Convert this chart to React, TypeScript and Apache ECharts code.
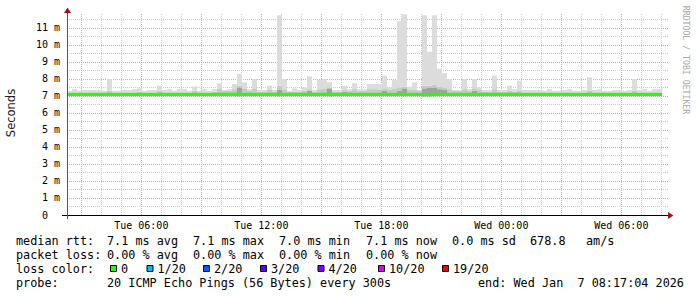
import React, { useEffect, useRef } from 'react';
import * as echarts from 'echarts';

// time axis in minutes since Tue 00:00; graph spans 30 h ending Wed 08:17:04
const START_MIN = 137 + 4 / 60;
const END_MIN = START_MIN + 1800;
const BIN_MIN = 15;
const Y_MAX = 11.88;

// max ping per 15-minute bin (ms)
const smokeHigh = [
  7.3, 7.4, 7.3, 7.35, 7.35, 7.35, 7.35, 7.3, 8.0, 7.3,
  7.3, 7.35, 7.35, 7.4, 7.45, 7.3, 7.35, 7.35, 7.6, 7.35,
  7.4, 7.3, 7.4, 7.4, 7.3, 7.55, 7.3, 7.4, 7.3, 7.4,
  7.75, 7.35, 7.4, 7.7, 8.3, 7.8, 7.4, 8.0, 7.35, 7.35,
  7.6, 7.35, 11.75, 8.0, 7.3, 7.45, 7.35, 7.5, 8.15, 7.35,
  7.95, 8.0, 7.8, 7.35, 7.35, 7.6, 7.4, 7.75, 7.4, 7.4,
  7.7, 7.7, 7.7, 8.2, 7.5, 7.95, 11.4, 11.8, 7.55, 7.8,
  7.35, 11.75, 9.6, 11.75, 8.6, 8.35, 8.0, 7.35, 7.35, 8.0,
  7.4, 8.0, 7.5, 7.35, 7.35, 8.2, 7.35, 7.35, 7.6, 7.4,
  7.9, 7.35, 7.35, 7.35, 7.35, 7.3, 7.4, 7.3, 7.3, 7.35,
  7.4, 7.3, 7.3, 7.35, 8.1, 7.35, 7.4, 7.3, 7.3, 7.35,
  7.35, 7.3, 7.35, 8.0, 7.35, 7.4, 7.3, 7.4, 7.4,
];
// upper edge of the middle smoke layer
const smokeMid = [
  7.2, 7.2, 7.2, 7.2, 7.2, 7.2, 7.2, 7.2, 7.3, 7.2,
  7.2, 7.2, 7.2, 7.2, 7.25, 7.2, 7.2, 7.2, 7.3, 7.2,
  7.2, 7.2, 7.2, 7.2, 7.2, 7.3, 7.2, 7.2, 7.2, 7.25,
  7.45, 7.3, 7.3, 7.4, 7.6, 7.45, 7.3, 7.45, 7.25, 7.25,
  7.35, 7.25, 7.6, 7.4, 7.25, 7.25, 7.25, 7.3, 7.4, 7.25,
  7.4, 7.45, 7.5, 7.25, 7.25, 7.35, 7.3, 7.4, 7.3, 7.3,
  7.4, 7.4, 7.35, 7.45, 7.35, 7.45, 7.5, 7.55, 7.35, 7.35,
  7.3, 7.6, 7.6, 7.65, 7.55, 7.5, 7.4, 7.3, 7.3, 7.4,
  7.3, 7.45, 7.35, 7.25, 7.25, 7.4, 7.25, 7.25, 7.3, 7.25,
  7.3, 7.2, 7.2, 7.2, 7.2, 7.2, 7.2, 7.2, 7.2, 7.2,
  7.2, 7.2, 7.2, 7.2, 7.3, 7.2, 7.2, 7.2, 7.2, 7.2,
  7.2, 7.2, 7.2, 7.3, 7.2, 7.2, 7.2, 7.2, 7.2,
];
// upper edge of the inner (darkest) smoke layer
const smokeDark = [
  7.12, 7.12, 7.12, 7.12, 7.12, 7.12, 7.12, 7.12, 7.12, 7.12,
  7.12, 7.12, 7.12, 7.12, 7.12, 7.12, 7.12, 7.12, 7.12, 7.12,
  7.12, 7.12, 7.12, 7.12, 7.12, 7.12, 7.12, 7.12, 7.12, 7.12,
  7.12, 7.12, 7.12, 7.12, 7.5, 7.2, 7.12, 7.2, 7.12, 7.12,
  7.12, 7.12, 7.35, 7.2, 7.12, 7.12, 7.12, 7.12, 7.3, 7.12,
  7.2, 7.2, 7.45, 7.12, 7.12, 7.25, 7.12, 7.2, 7.12, 7.12,
  7.2, 7.2, 7.12, 7.3, 7.12, 7.2, 7.3, 7.45, 7.12, 7.12,
  7.12, 7.45, 7.5, 7.5, 7.4, 7.35, 7.2, 7.12, 7.12, 7.2,
  7.12, 7.3, 7.12, 7.12, 7.12, 7.12, 7.12, 7.12, 7.12, 7.12,
  7.12, 7.12, 7.12, 7.12, 7.12, 7.12, 7.12, 7.12, 7.12, 7.12,
  7.12, 7.12, 7.12, 7.12, 7.12, 7.12, 7.12, 7.12, 7.12, 7.12,
  7.12, 7.12, 7.12, 7.12, 7.12, 7.12, 7.12, 7.12, 7.12,
];
// min ping per bin
const smokeLow = [
  7.0, 7.0, 7.0, 7.0, 7.0, 7.0, 7.0, 7.0, 7.0, 7.0,
  7.0, 7.0, 7.0, 7.0, 7.0, 7.0, 7.0, 7.0, 7.0, 7.0,
  7.0, 7.0, 7.0, 7.0, 7.0, 7.0, 7.0, 7.0, 7.0, 7.0,
  7.0, 7.0, 7.0, 7.0, 6.98, 7.0, 7.0, 7.0, 7.0, 7.0,
  7.0, 7.0, 6.98, 7.0, 7.0, 7.0, 7.0, 7.0, 7.0, 7.0,
  7.0, 7.0, 6.98, 7.0, 7.0, 7.0, 7.0, 7.0, 7.0, 7.0,
  7.0, 7.0, 7.0, 7.0, 7.0, 7.0, 7.0, 6.98, 7.0, 7.0,
  7.0, 6.97, 6.97, 6.98, 7.0, 7.0, 7.0, 7.0, 7.0, 7.0,
  7.0, 7.0, 7.0, 7.0, 7.0, 7.0, 7.0, 7.0, 7.0, 7.0,
  7.0, 7.0, 7.0, 7.0, 7.0, 7.0, 7.0, 7.0, 7.0, 7.0,
  7.0, 7.0, 7.0, 7.0, 7.0, 7.0, 7.0, 7.0, 7.0, 7.0,
  7.0, 7.0, 7.0, 7.0, 7.0, 7.0, 7.0, 7.0, 7.0,
];
// median rtt per bin
const medianRtt = [
  7.1, 7.1, 7.1, 7.1, 7.1, 7.1, 7.1, 7.1, 7.1, 7.1,
  7.1, 7.1, 7.1, 7.1, 7.1, 7.1, 7.1, 7.1, 7.1, 7.1,
  7.1, 7.1, 7.1, 7.1, 7.1, 7.1, 7.1, 7.1, 7.1, 7.1,
  7.1, 7.1, 7.1, 7.1, 7.11, 7.1, 7.1, 7.1, 7.1, 7.1,
  7.1, 7.1, 7.1, 7.1, 7.1, 7.1, 7.1, 7.1, 7.1, 7.1,
  7.1, 7.1, 7.11, 7.1, 7.1, 7.1, 7.1, 7.1, 7.1, 7.1,
  7.1, 7.1, 7.1, 7.1, 7.1, 7.1, 7.1, 7.1, 7.1, 7.1,
  7.1, 7.09, 7.09, 7.1, 7.1, 7.1, 7.1, 7.1, 7.1, 7.1,
  7.1, 7.1, 7.1, 7.1, 7.1, 7.1, 7.1, 7.1, 7.1, 7.1,
  7.1, 7.1, 7.1, 7.1, 7.1, 7.1, 7.1, 7.1, 7.1, 7.1,
  7.1, 7.1, 7.1, 7.1, 7.1, 7.1, 7.1, 7.1, 7.1, 7.1,
  7.1, 7.1, 7.1, 7.1, 7.1, 7.1, 7.1, 7.1, 7.1,
];

const xTickValues = [360, 720, 1080, 1440, 1800];
const xTickLabels = ['Tue 06:00', 'Tue 12:00', 'Tue 18:00', 'Wed 00:00', 'Wed 06:00'];
const yTickValues = [0, 1, 2, 3, 4, 5, 6, 7, 8, 9, 10, 11];
const yTickLabels = ['0', '1 m', '2 m', '3 m', '4 m', '5 m', '6 m', '7 m', '8 m', '9 m', '10 m', '11 m'];

const rttStats = ['7.1 ms avg', '7.1 ms max', '7.0 ms min', '7.1 ms now', '0.0 ms sd', '678.8', 'am/s'];
const lossStats = ['0.00 % avg', '0.00 % max', '0.00 % min', '0.00 % now'];
const lossLevels = ['0', '1/20', '2/20', '3/20', '4/20', '10/20', '19/20'];
const lossColors = ['#26ff00', '#00b8ff', '#0059ff', '#5e00ff', '#7e00ff', '#dd00ff', '#ff0000'];
const probeText = '20 ICMP Echo Pings (56 Bytes) every 300s';
const endText = 'end: Wed Jan  7 08:17:04 2026';

const MONO = 'DejaVu Sans Mono';
const MGRID = '#e2a4a4';
const GRID = '#cccccc';

export default function App() {
  const ref = useRef<HTMLDivElement>(null);
  useEffect(() => {
    if (!ref.current) return;
    const chart = echarts.init(ref.current, null, { renderer: 'svg' });

    const n = smokeHigh.length;
    const xc = (i: number) => START_MIN + BIN_MIN * (i + 0.5);
    const smokeRows = smokeHigh.map((h, i) => [xc(i), smokeLow[i], smokeDark[i], smokeMid[i], h]);
    const med = medianRtt.map((v, i) => [START_MIN + BIN_MIN * i, v]);
    med.push([START_MIN + BIN_MIN * n, medianRtt[n - 1]]);
    const yLabelRows = yTickValues.map((v, i) => [START_MIN, v, i]);

    // grid lines: [x, y, major?, vertical?]
    const gridRows: number[][] = [];
    for (let v = 0.5; v < Y_MAX; v += 0.5) {
      const major = Math.abs(v - Math.round(v)) < 1e-6 ? 1 : 0;
      gridRows.push([START_MIN, v, major, 0]);
    }
    for (let m = 60 * Math.ceil(START_MIN / 60); m < END_MIN; m += 60) {
      gridRows.push([m, 0, m % 180 === 0 ? 1 : 0, 1]);
    }
    gridRows.sort((a, b) => a[2] - b[2]);

    const texts: any[] = [];
    const addText = (x: number, y: number, t: string) =>
      texts.push({
        type: 'text', x, y,
        style: { text: t, font: `11.8px "${MONO}"`, fill: '#000', textVerticalAlign: 'middle' },
      });
    const col = [107, 193, 279, 366, 452, 530, 586];
    addText(16, 241, 'median rtt:');
    rttStats.forEach((t, i) => addText(col[i], 241, t));
    addText(16, 255, 'packet loss:');
    lossStats.forEach((t, i) => addText(col[i], 255, t));
    addText(16, 269, 'loss color:');
    const boxX = [110, 146.5, 203, 260, 317.5, 378, 442];
    lossLevels.forEach((t, i) => {
      texts.push({
        type: 'rect',
        shape: { x: boxX[i] + 0.5, y: 265.5, width: 6, height: 6 },
        style: { fill: lossColors[i], stroke: '#000', lineWidth: 1 },
      });
      addText(boxX[i] + 11, 269, t);
    });
    addText(16, 283, 'probe:');
    addText(107, 283, probeText);
    addText(478, 283, endText);

    chart.setOption({
      animation: false,
      backgroundColor: '#ffffff',
      grid: { left: 67, top: 13, width: 600, height: 202 },
      xAxis: {
        type: 'value',
        min: START_MIN,
        max: END_MIN,
        axisLine: { show: false },
        axisTick: { show: false },
        splitLine: { show: false },
        axisLabel: {
          customValues: xTickValues,
          formatter: (v: number) => {
            const k = xTickValues.findIndex((t) => Math.abs(t - v) < 0.01);
            return k >= 0 ? xTickLabels[k] : '';
          },
          fontFamily: MONO,
          fontSize: 10,
          color: '#000',
          margin: 5,
        },
      },
      yAxis: {
        type: 'value',
        min: 0,
        max: Y_MAX,
        axisLine: { show: false },
        axisTick: { show: false },
        splitLine: { show: false },
        axisLabel: { show: false },
      },
      series: [
        {
          type: 'custom',
          z: 1,
          silent: true,
          data: gridRows,
          encode: { x: 0, y: 1 },
          renderItem: (params: any, api: any) => {
            const major = api.value(2) === 1;
            const vertical = api.value(3) === 1;
            let a: number[], b: number[];
            if (vertical) {
              const x = api.value(0);
              a = api.coord([x, 0]);
              b = api.coord([x, Y_MAX]);
              a[0] = b[0] = Math.round(a[0]) + 0.5;
            } else {
              const y = api.value(1);
              a = api.coord([START_MIN, y]);
              b = api.coord([END_MIN, y]);
              b[0] += 2;
              a[1] = b[1] = Math.round(a[1]) + 0.5;
            }
            return {
              type: 'line',
              shape: { x1: a[0], y1: a[1], x2: b[0], y2: b[1] },
              style: { stroke: major ? MGRID : GRID, lineWidth: 1, lineDash: [1, 1] },
            };
          },
        },
        {
          type: 'custom',
          z: 5,
          silent: true,
          clip: false,
          data: yLabelRows,
          encode: { x: 0, y: 1 },
          renderItem: (params: any, api: any) => {
            const p = api.coord([api.value(0), api.value(1)]);
            const label = yTickLabels[api.value(2)];
            // rrdtool pads the unit column, so "0" lines up with the other numbers
            const w = Math.max(label.length, 3) * 6.02;
            return {
              type: 'text',
              x: p[0] - 7 - w,
              y: p[1],
              style: {
                text: label,
                font: `10px "${MONO}"`,
                fill: '#000',
                textAlign: 'left',
                textVerticalAlign: 'middle',
              },
            };
          },
        },
        {
          type: 'custom',
          z: 2,
          silent: true,
          data: smokeRows,
          encode: { x: 0, y: [1, 4] },
          renderItem: (params: any, api: any) => {
            const x = api.value(0);
            const half = BIN_MIN / 2;
            const band = (lo: number, hi: number, fill: string) => {
              const p0 = api.coord([x - half, lo]);
              const p1 = api.coord([x + half, hi]);
              const x0 = Math.round(p0[0]);
              const x1 = Math.round(p1[0]);
              return {
                type: 'rect',
                shape: { x: x0, y: p1[1], width: x1 - x0, height: p0[1] - p1[1] },
                style: { fill },
              };
            };
            return {
              type: 'group',
              children: [
                band(api.value(1), api.value(2), '#a2a2a2'),
                band(api.value(2), api.value(3), '#c8c8c8'),
                band(api.value(3), api.value(4), '#dcdcdc'),
              ],
            };
          },
        },
        {
          type: 'line',
          data: med,
          z: 3,
          silent: true,
          showSymbol: false,
          lineStyle: { color: '#26ff00', width: 3 },
        },
      ],
      graphic: [
        { type: 'line', shape: { x1: 62, y1: 215.5, x2: 669, y2: 215.5 }, style: { stroke: '#000', lineWidth: 1 }, z: 10 },
        { type: 'line', shape: { x1: 67.5, y1: 219, x2: 67.5, y2: 12 }, style: { stroke: '#555', lineWidth: 1 }, z: 10 },
        { type: 'polygon', shape: { points: [[64, 13], [71, 13], [67.5, 7.5]] }, style: { fill: '#a01414' }, z: 11 },
        { type: 'polygon', shape: { points: [[668, 212], [668, 219], [673.5, 215.5]] }, style: { fill: '#a01414' }, z: 11 },
        {
          type: 'text', x: 10.5, y: 113, rotation: Math.PI / 2,
          style: { text: 'Seconds', font: '11.5px "DejaVu Sans"', fill: '#222', textAlign: 'center', textVerticalAlign: 'middle' },
        },
        {
          type: 'text', x: 686, y: 60, rotation: -Math.PI / 2,
          style: { text: 'RRDTOOL / TOBI OETIKER', font: `8.2px "${MONO}"`, fill: '#a8a8a8', textAlign: 'center', textVerticalAlign: 'middle' },
        },
        ...texts,
      ],
    });
    return () => chart.dispose();
  }, []);
  return (
    <div
      ref={ref}
      style={{ position: 'fixed', left: 0, top: 0, width: 697, height: 297, background: '#fff' }}
    />
  );
}
